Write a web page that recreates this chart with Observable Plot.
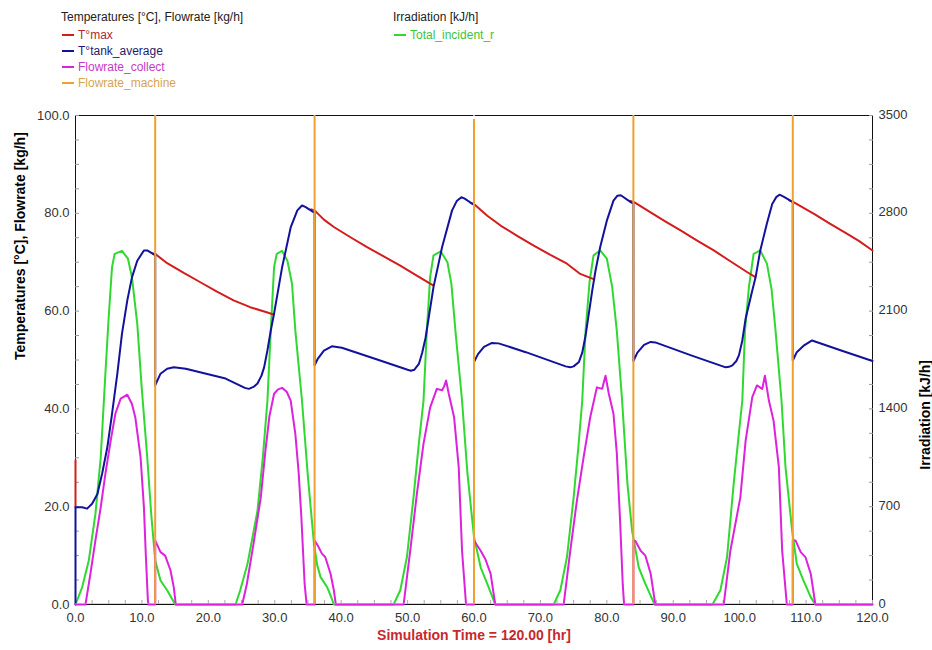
<!DOCTYPE html>
<html><head><meta charset="utf-8">
<script src="https://cdn.jsdelivr.net/npm/d3@7"></script>
<script src="https://cdn.jsdelivr.net/npm/@observablehq/plot@0.6"></script>
<style>
body{margin:0;background:#fff;}
#wrap{position:relative;width:932px;height:650px;font-family:"Liberation Sans",Arial,sans-serif;background:#fff;overflow:hidden}
.lg{position:absolute;font-size:12px;line-height:14px;white-space:nowrap}
.sw{position:absolute;width:12px;height:2px}
#chart{position:absolute;left:0;top:100px}
</style></head><body>
<div id="wrap"><div id="legend"></div><div id="chart"></div></div>
<script>
// ---------- data ----------
const xTicks = [0,10,20,30,40,50,60,70,80,90,100,110,120];
const yTicks = [0,20,40,60,80,100];
const irrTicks = [0,700,1400,2100,2800,3500];
const irrMax = 3500, yMax = 100;

const leftLegendNames = ["T°max","T°tank_average","Flowrate_collect","Flowrate_machine"];
const rightLegendNames = ["Total_incident_r"];

// T°tank_average [°C]
const tankTime = [0,0,1.0,1.75,2.5,3.3,4.0,4.8,5.5,6.3,7.0,7.8,8.5,9.3,10.3,10.8,11.8,12,12,12.8,13.8,14.8,16.6,22.6,25.5,26.1,26.8,27.4,28.0,28.4,28.9,29.4,29.9,31.1,32.4,33.4,34.1,34.6,35.9,36,36,36.5,37.4,38.6,40.1,45.2,50.0,50.5,51.0,51.7,52.2,52.7,53.9,55.2,56.7,57.4,58.1,58.6,59.8,60,60,60.6,61.5,62.7,63.7,67.8,73.8,74.5,75.0,75.8,76.3,76.8,77.8,78.3,79,80,81,81.6,82.1,83.6,84,84,84.6,85.6,86.6,87.3,92.8,97.9,98.4,98.9,99.5,99.9,100.4,100.9,101.9,102.4,103.1,104.1,104.9,105.5,106,106.6,107.9,108,108,108.6,109.7,110.9,115.4,120];
const tankTemp = [0,19.9,19.9,19.6,20.6,22.6,26.7,32.2,39,47.2,55.4,62.2,66.9,70.3,72.4,72.4,71.6,71.4,44.8,47.2,48.2,48.5,48.2,46.2,44.3,44.1,44.5,45.2,46.8,48.5,52,56,59.5,68.9,77.1,80.6,81.6,81.3,80.2,80.1,48.9,50.3,51.9,52.8,52.5,50.2,48.0,47.8,48.0,49.2,51.5,54.5,64.9,73.1,80.6,82.5,83.3,83.0,81.9,81.8,49.6,51.2,52.7,53.5,53.4,51.6,48.7,48.5,48.7,49.6,51.5,55,64.2,68.3,73.1,78.5,82.6,83.6,83.7,82.3,82.0,49.8,51.5,53.1,53.7,53.6,50.9,48.5,48.6,48.9,49.8,51,54,58.5,64.2,66.9,72.4,77.9,81.9,83.3,83.8,83.4,82.4,82.3,49.9,51.6,53,54,51.9,49.8];

// T°max [°C] (hidden under T°tank_average while heating; null = gap)
const maxTime = [0,0,null,11.6,12,13.8,16.3,18.8,21.3,23.8,26.3,28.9,29.8,null,35.5,36,37.4,38.9,41.4,43.9,46.4,48.9,51.2,53.4,53.8,null,59.5,60,62,64,66.5,69,71.5,74,76,78.1,null,83.5,84.1,86.1,88.6,91.1,93.6,96.1,98.6,101.1,102.3,null,107.5,108.1,111.2,113.7,116.2,118,120];
const maxTemp = [29.5,19.9,null,71.8,71.7,69.8,67.8,65.9,64.0,62.2,60.8,59.7,59.3,null,80.8,80.6,78.7,77.2,75.1,73.1,71.2,69.3,67.4,65.6,65.3,null,82.1,81.9,79.5,77.5,75.4,73.4,71.5,69.7,67.6,66.5,null,82.5,82.3,80.6,78.5,76.5,74.4,72.4,70.2,68,67.0,null,82.6,82.3,79.9,77.8,75.8,74.3,72.4];

// Flowrate_collect [kg/h]
const collectTime = [0,1.5,2.25,3.0,3.8,4.5,5.3,6.0,6.8,7.8,8.5,9.0,9.8,10.3,10.6,10.9,11.0,12,12,12.8,13.5,14.3,14.8,15.1,
  25.1,25.8,26.8,27.9,28.6,29.2,29.9,30.5,31.1,31.8,32.4,33.1,33.6,34.0,34.5,34.8,36,36,36.5,37.1,37.6,38.4,38.9,39.2,
  49.4,50.4,51.4,52.4,53.4,54.4,55.2,55.5,55.8,56.2,57,57.7,58.2,58.8,60,60,61,61.7,62.5,63.2,
  73.5,74.5,75.5,76.5,77.5,78.5,79.3,79.8,80.3,81,81.5,82.0,82.4,82.6,84,84,84.3,85.1,85.8,86.6,87.3,
  97.6,98.6,100.1,100.9,101.9,102.6,103.4,103.8,104.4,105.1,105.9,106.4,107.1,108,108,108.4,109.2,109.9,110.7,111.4,120];
const collectFlow = [0,0,6.3,13.1,19.9,26.7,33.5,39,42.1,42.9,41,38.3,30.1,19.9,9.7,0.8,0,0,13.1,10.7,10,7,3.5,0,
  0,4.2,12.4,21.9,31.5,38.5,43.1,44,44.3,43.5,41.7,34.9,27,18,4.2,0,0,13.1,12,10.4,9.7,6.3,2.9,0,
  0,11,22.6,32.9,40.3,44.1,43.8,44.6,45.8,43.1,38.3,28.1,11,0,0,13.1,11,9.3,6.3,0,
  0,11,21.3,30.1,38.3,44.4,44.1,46.8,43.1,39,31,17,4,0,0,13.1,13,11,10,6.3,0,
  0,11,21.9,33.5,42.4,44.8,44.1,46.8,41.7,37.6,28.1,11,0,0,13.1,13.1,10.7,9.7,6.3,0,0];

// Flowrate_machine [kg/h] (spikes run off the top of the chart)
const machineTime = [0,12,12,12,36,36,36,60,60,60,84,84,84,108,108,108,120];
const machineFlow = [0,0,250,0,0,250,0,0,250,0,0,250,0,0,250,0,0];

// Total_incident_r [kJ/h]
const irrTime = [0,1.0,2.0,3.0,3.8,4.5,5.0,5.5,5.9,7.0,7.9,8.5,9.3,10.0,10.8,11.4,12.0,12.8,13.8,14.8,15.0,
  24.1,24.8,25.9,27.4,28.2,28.9,29.4,29.9,30.3,31.1,31.9,32.6,33.1,34.1,35.0,35.9,36.4,36.9,37.9,38.5,38.9,
  47.9,48.9,49.9,50.9,51.7,52.4,52.9,53.4,53.9,55.0,56.0,56.6,57.2,58.2,59.0,60.0,61.0,62.0,63.2,
  72.0,73.0,74.0,75.0,75.7,76.3,76.8,77.4,78.0,79.0,80.0,80.8,81.5,82.3,83.1,83.8,84.8,85.8,86.8,87.2,
  95.9,97.1,98.1,99.1,99.8,100.4,100.8,101.4,102.1,103.1,104.1,104.8,105.4,106.3,106.9,107.9,108.6,109.6,110.7,111.4,120];
const irrValue = [0,123,315,648,1054,1652,2058,2415,2510,2531,2475,2342,2009,1533,1054,648,315,172,102,18,0,
  0,102,291,672,1050,1460,1960,2415,2510,2531,2461,2296,1960,1460,910,438,280,196,123,53,0,
  0,102,340,770,1155,1460,1960,2345,2499,2527,2450,2293,1960,1460,945,483,266,147,0,
  0,102,340,767,1120,1460,1960,2310,2499,2534,2475,2275,1960,1460,865,529,266,147,42,0,
  0,102,340,865,1190,1460,1960,2275,2510,2534,2440,2258,1960,1460,984,529,291,172,53,0,0];

// ---------- styles ----------
const C = {max:"#d41c1c", tank:"#12129c", collect:"#dc22dc", machine:"#f0a030", irr:"#30d830"};
const legendText = {max:"#b02a2a", tank:"#1c1c6e", collect:"#c63ac6", machine:"#d6a54e", irr:"#3cc43c"};

const rows = (t, v) => t.map((x, i) => ({t: x, v: v[i]}));
const toLeft = v => v * yMax / irrMax;

// ---------- legend ----------
const lg = document.getElementById("legend");
function addText(txt, left, top, color){
  const d = document.createElement("div"); d.className = "lg";
  d.style.left = left + "px"; d.style.top = top + "px"; d.style.color = color; d.textContent = txt; lg.appendChild(d);
}
function addSw(left, cy, color){
  const s = document.createElement("div"); s.className = "sw";
  s.style.left = left + "px"; s.style.top = (cy - 1) + "px"; s.style.background = color; lg.appendChild(s);
}
addText("Temperatures [°C], Flowrate [kg/h]", 61, 10, "#222");
const leftKeys = ["max","tank","collect","machine"];
leftLegendNames.forEach((n, i) => { const cy = 35 + i * 16; addSw(62, cy, C[leftKeys[i]]); addText(n, 78, cy - 7, legendText[leftKeys[i]]); });
addText("Irradiation [kJ/h]", 393, 10, "#222");
rightLegendNames.forEach((n, i) => { const cy = 35 + i * 16; addSw(394, cy, C.irr); addText(n, 410, cy - 7, legendText.irr); });

// ---------- chart ----------
const lw = 2;
const chart = Plot.plot({
  width: 932, height: 550,
  marginTop: 15, marginBottom: 46, marginLeft: 75, marginRight: 60,
  x: {domain: [0, 120]},
  y: {domain: [0, yMax]},
  style: {fontFamily: "Liberation Sans, Arial, sans-serif", fontSize: "13px", color: "#333", background: "#fff"},
  marks: [
    Plot.frame({stroke: "#111"}),
    Plot.axisY({anchor: "left", ticks: d3.range(0, 101, 5), tickSize: -4, tickFormat: () => "", stroke: "#999", label: null}),
    Plot.axisY({anchor: "right", ticks: d3.range(0, 101, 5), tickSize: -4, tickFormat: () => "", stroke: "#999", label: null}),
    Plot.axisX({anchor: "bottom", ticks: d3.range(0, 120.1, 2.5), tickSize: -4, tickFormat: () => "", stroke: "#aaa", label: null}),
    Plot.axisY({anchor: "left", ticks: yTicks, tickSize: 0, tickPadding: 6, tickFormat: d => d.toFixed(1), label: null}),
    Plot.axisY({anchor: "right", ticks: irrTicks.map(toLeft), tickSize: 0, tickPadding: 6, dy: -1, tickFormat: d => String(Math.round(d * irrMax / yMax)), label: null}),
    Plot.axisX({anchor: "bottom", ticks: xTicks, tickSize: 0, tickPadding: 8, tickFormat: d => d.toFixed(1), label: null}),
    Plot.line(rows(irrTime, irrValue), {x: "t", y: d => toLeft(d.v), stroke: C.irr, strokeWidth: lw}),
    Plot.line(rows(maxTime, maxTemp), {x: "t", y: "v", stroke: C.max, strokeWidth: lw}),
    Plot.line(rows(tankTime, tankTemp), {x: "t", y: "v", stroke: C.tank, strokeWidth: lw}),
    Plot.line(rows(collectTime, collectFlow), {x: "t", y: "v", stroke: C.collect, strokeWidth: lw}),
    Plot.line(rows(machineTime, machineFlow), {x: "t", y: "v", stroke: C.machine, strokeWidth: lw, clip: true}),
    Plot.axisX({anchor: "top", ticks: d3.range(10, 120, 10), tickSize: -3, tickFormat: () => "", stroke: "#fff", strokeWidth: 2, label: null}),
    Plot.text(["Temperatures [°C], Flowrate [kg/h]"], {text: d => d, frameAnchor: "left", dx: -55, rotate: -90, fontWeight: "bold", fontSize: 14, fill: "#000"}),
    Plot.text(["Irradiation [kJ/h]"], {text: d => d, frameAnchor: "right", dx: 53, rotate: -90, fontWeight: "bold", fontSize: 14, fill: "#000"}),
    Plot.text(["Simulation Time = 120.00 [hr]"], {text: d => d, frameAnchor: "bottom", dy: 35, fontWeight: "bold", fontSize: 14, fill: "#c8282d"})
  ]
});
document.getElementById("chart").appendChild(chart);
</script>
</body></html>
